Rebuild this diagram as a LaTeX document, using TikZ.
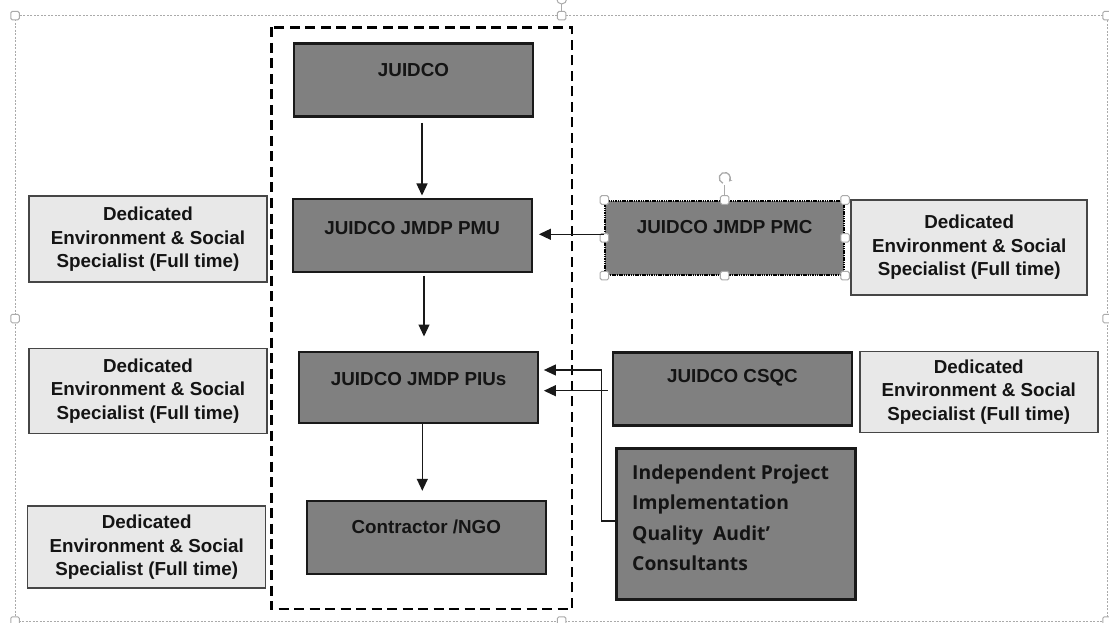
\documentclass[tikz,border=0pt]{standalone}
\usepackage{fontspec}
\setmainfont{Liberation Sans}
\newfontfamily\osans{Open Sans}
\usetikzlibrary{arrows.meta}
\definecolor{darkfill}{RGB}{128,128,128}
\definecolor{lightfill}{RGB}{232,232,232}
\definecolor{lightedge}{RGB}{70,70,70}
\definecolor{selgray}{RGB}{170,170,170}
\definecolor{txt}{RGB}{20,20,20}
\begin{document}
\begin{tikzpicture}[x=1pt,y=-1pt,
  darkbox/.style={draw=black!90, line width=2.4pt, fill=darkfill, inner sep=0pt, minimum width=239pt, minimum height=73pt},
  lightbox/.style={draw=lightedge, line width=1.5pt, fill=lightfill, inner sep=0pt, minimum width=238pt, align=center, text=txt, font=\bfseries\fontsize{18.8}{23.5}\selectfont},
  lbl/.style={font=\bfseries\fontsize{18.8}{23.5}\selectfont, inner sep=0pt, text=txt},
  arr/.style={draw=black!90, line width=1.3pt, -{Triangle[length=12pt,width=11pt]}},
  handle/.style={draw=selgray, fill=white, line width=1pt, rounded corners=1.5pt, minimum size=8.5pt, inner sep=0pt},
  selline/.style={draw=selgray, line width=0.8pt, dash pattern=on 2pt off 1.5pt},
  dashframe/.style={draw=black, line width=2.3pt, dash pattern=on 10pt off 5.5pt}
]
\useasboundingbox (0,0) rectangle (1109,623);
\fill[white] (0,0) rectangle (1109,623);

% outer selection frame
\draw[selline] (15,15.7) rectangle (1107,621);
\draw[selgray, line width=1pt] (561.7,4) -- (561.7,12);
\draw[selgray, line width=1pt] (561.7,-1) circle (5);
\foreach \p in {(15,15.7),(561.7,15.7),(1107,15.7),(15,318.5),(1107,318.5),(15,621),(561.7,621),(1107,621)}
  \node[handle] at \p {};

% dashed frame
\draw[dashframe] (271.5,27.5) rectangle (571.8,609.3);

% central column
\node[darkbox] (juidco) at (413.5,80.2) {};
\node[lbl] at ([yshift=10]juidco.center) {JUIDCO};
\node[darkbox] (pmu) at (412.2,235.7) {};
\node[lbl] at ([yshift=8]pmu.center) {JUIDCO JMDP PMU};
\node[darkbox, minimum height=71pt] (pius) at (418.7,387.2) {};
\node[lbl] at ([yshift=8]pius.center) {JUIDCO JMDP PIUs};
\node[darkbox] (contr) at (426.3,537.5) {};
\node[lbl] at ([yshift=11]contr.center) {Contractor /NGO};

% right column
\node[darkbox, draw=black, line width=1.6pt, dash pattern=on 1.5pt off 0.8pt, minimum height=74pt] (pmc) at (724.7,237.8) {};
\node[lbl] at ([yshift=11]pmc.center) {JUIDCO JMDP PMC};
\node[darkbox] (csqc) at (732.5,389) {};
\node[lbl] at ([yshift=11]csqc.center) {JUIDCO CSQC};
\node[darkbox, minimum height=151pt] (ipiq) at (735.8,523.8) {};
\node[inner sep=0pt, anchor=west, align=left, text=txt, font=\osans\bfseries\fontsize{19.3}{30.3}\selectfont] at (632,517.8) {Independent Project\\Implementation\\Quality~ Audit’\\Consultants};

% PMC selection handles
\draw[selgray, line width=1pt] (pmc.north) -- ++(0,-15);
\draw[selgray, line width=1.3pt, -{Stealth[length=3pt,width=4pt]}] (724.7,178) ++(110:5.5) arc (110:400:5.5);
\foreach \a in {north west,north,north east,west,east,south west,south,south east}
  \node[handle] at (pmc.\a) {};

% specialist boxes
\node[lightbox, minimum height=86pt] (l1) at (148,239.2) {Dedicated\\Environment \& Social\\Specialist (Full time)};
\node[lightbox, minimum height=85pt] (l2) at (148,390.8) {Dedicated\\Environment \& Social\\Specialist (Full time)};
\node[lightbox, minimum height=82pt] (l3) at (146.7,547.2) {Dedicated\\Environment \& Social\\Specialist (Full time)};
\node[lightbox, minimum width=236pt, minimum height=95pt] (r1) at (969.2,247.5) {Dedicated\\Environment \& Social\\Specialist (Full time)};
\node[lightbox, minimum height=81pt] (r2) at (978.8,391.8) {Dedicated\\Environment \& Social\\Specialist (Full time)};

% connectors
\coordinate (v1) at (422,0);
\coordinate (v2) at (424,0);
\coordinate (v3) at (422.3,0);
\coordinate (h1) at (0,234.3);
\coordinate (h2) at (0,370);
\coordinate (h3) at (0,390.7);
\coordinate (k1) at (601.7,521);
\draw[arr, shorten <=5pt, shorten >=2.5pt] (juidco.south -| v1) -- (pmu.north -| v1);
\draw[arr, shorten <=2.5pt, shorten >=14pt] (pmu.south -| v2) -- (pius.north -| v2);
\draw[arr, shorten >=9pt] (pius.south -| v3) -- (contr.north -| v3);
\draw[arr, shorten >=6pt] (pmc.west |- h1) -- (pmu.east |- h1);
\draw[arr, shorten <=4pt, shorten >=4.5pt] (csqc.west |- h3) -- (pius.east |- h3);
\draw[arr, line width=1.1pt, shorten >=4.5pt] (ipiq.west |- k1) -- (k1) |- (pius.east |- h2);
\end{tikzpicture}
\end{document}
